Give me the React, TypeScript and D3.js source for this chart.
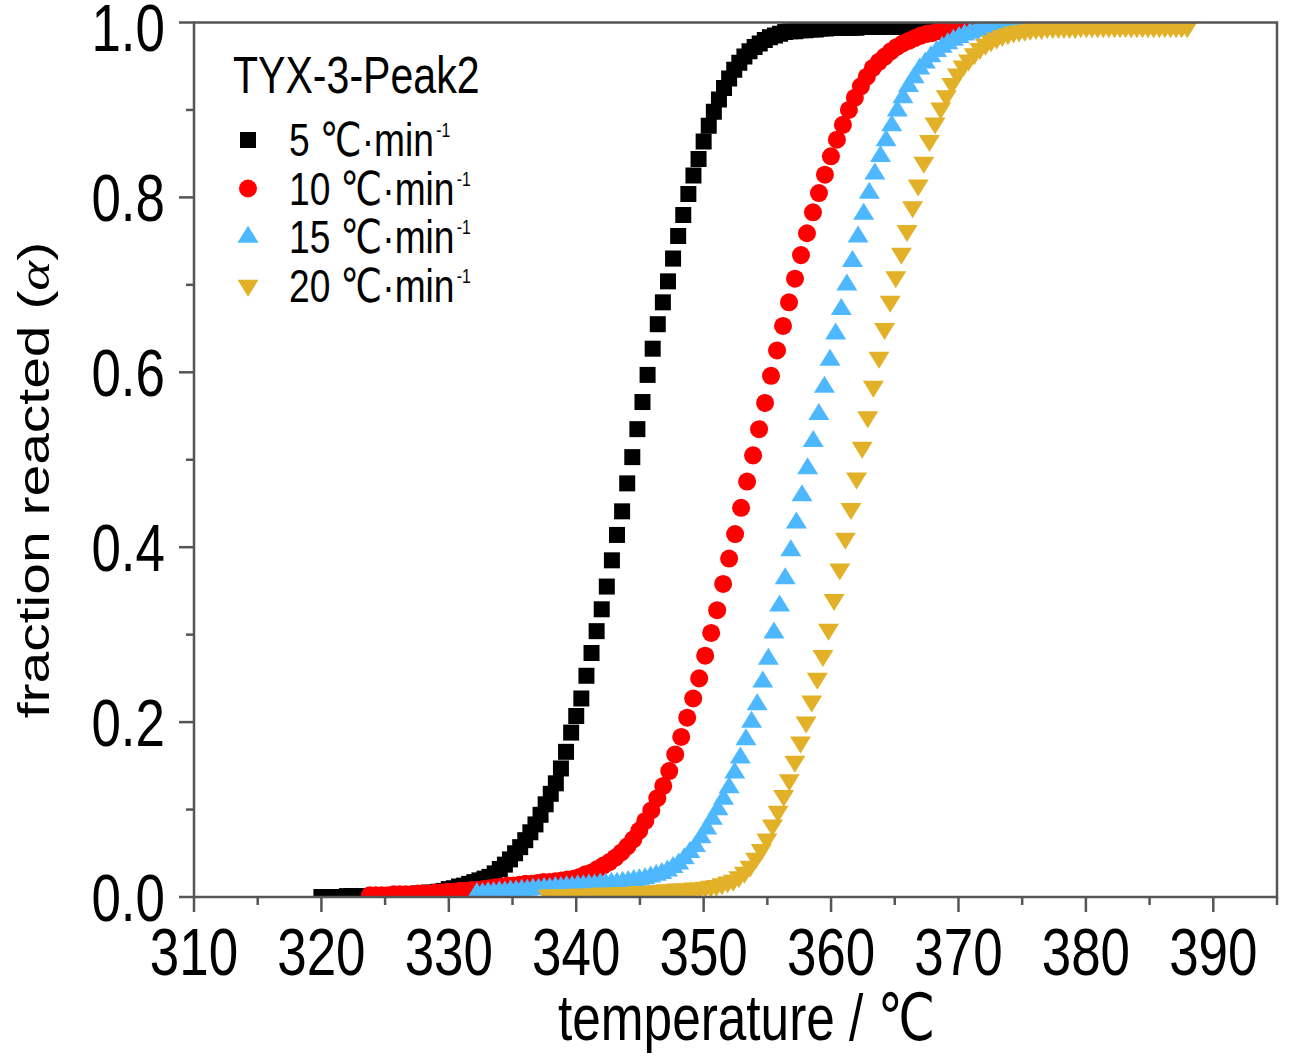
import React from 'react';
import * as d3 from 'd3';

// 画布与绘图区
const W = 1303;
const H = 1057;
const plot = { left: 194, top: 22.5, right: 1277, bottom: 897 };
const SX = 0.79; // 原图文字横向压缩比例

const FONT = '"Liberation Sans", Arial, "DejaVu Sans", sans-serif';

// 坐标轴刻度
const xDomain = [310, 395];
const xMajorTicks = [310, 320, 330, 340, 350, 360, 370, 380, 390];
const xMinorTicks = [315, 325, 335, 345, 355, 365, 375, 385, 395];
const yMajorTicks = [0, 0.2, 0.4, 0.6, 0.8, 1.0];
const yMinorTicks = [0.1, 0.3, 0.5, 0.7, 0.9];
const yTickLabels = ['0.0', '0.2', '0.4', '0.6', '0.8', '1.0'];

// 升温速率系列
const rates = ['5', '10', '15', '20'];
const colors = ['#000000', '#ff0000', '#4db8ff', '#e2b128'];
const shapes = ['square', 'circle', 'triUp', 'triDown'];
// 每个系列的起始温度与采样间隔(℃)
const tStart = [320.0, 323.8, 332.2, 337.8];
const tStep = [0.4, 0.47, 0.44, 0.44];

// 转化率 α
const alpha5 = [
  0.000, 0.000, 0.000, 0.000, 0.000, 0.001, 0.001, 0.001, 0.001, 0.001,
  0.001, 0.001, 0.002, 0.002, 0.002, 0.002, 0.003, 0.003, 0.003, 0.004,
  0.004, 0.005, 0.005, 0.006, 0.007, 0.009, 0.010, 0.012, 0.013, 0.015,
  0.017, 0.019, 0.021, 0.023, 0.027, 0.032, 0.037, 0.043, 0.050, 0.057,
  0.065, 0.074, 0.083, 0.094, 0.106, 0.118, 0.130, 0.147, 0.166, 0.188,
  0.207, 0.227, 0.253, 0.279, 0.304, 0.329, 0.355, 0.385, 0.414, 0.441,
  0.473, 0.503, 0.535, 0.566, 0.597, 0.627, 0.655, 0.680, 0.704, 0.730,
  0.756, 0.780, 0.804, 0.825, 0.844, 0.864, 0.882, 0.898, 0.912, 0.925,
  0.936, 0.946, 0.954, 0.961, 0.967, 0.972, 0.976, 0.980, 0.983, 0.985,
  0.987, 0.989, 0.990, 0.990, 0.991, 0.991, 0.992, 0.992, 0.993, 0.993,
  0.994, 0.994, 0.994, 0.994, 0.994, 0.994, 0.995, 0.995, 0.995, 0.995,
  0.995, 0.995, 0.995, 0.995, 0.995, 0.995, 0.996, 0.996, 0.996, 0.996,
  0.996, 0.996, 0.996, 0.996, 0.996, 0.996,
];

const alpha10 = [
  0.002, 0.002, 0.002, 0.002, 0.003, 0.003, 0.003, 0.003, 0.004, 0.004,
  0.004, 0.005, 0.005, 0.006, 0.006, 0.007, 0.007, 0.008, 0.008, 0.009,
  0.010, 0.011, 0.012, 0.013, 0.013, 0.014, 0.015, 0.015, 0.016, 0.017,
  0.017, 0.018, 0.019, 0.020, 0.021, 0.023, 0.026, 0.028, 0.032, 0.036,
  0.040, 0.045, 0.051, 0.058, 0.066, 0.076, 0.087, 0.099, 0.113, 0.127,
  0.144, 0.163, 0.183, 0.205, 0.227, 0.250, 0.276, 0.302, 0.328, 0.358,
  0.387, 0.415, 0.445, 0.475, 0.505, 0.535, 0.565, 0.596, 0.625, 0.653,
  0.680, 0.707, 0.734, 0.759, 0.783, 0.805, 0.826, 0.847, 0.866, 0.883,
  0.900, 0.914, 0.927, 0.938, 0.948, 0.955, 0.961, 0.967, 0.972, 0.976,
  0.979, 0.982, 0.985, 0.987, 0.988, 0.990, 0.991, 0.992, 0.993, 0.993,
  0.994, 0.994, 0.995, 0.995, 0.995, 0.996, 0.996, 0.996,
];

const alpha15 = [
  0.004, 0.004, 0.005, 0.005, 0.006, 0.006, 0.007, 0.007, 0.008, 0.008,
  0.009, 0.009, 0.010, 0.010, 0.011, 0.011, 0.012, 0.012, 0.013, 0.013,
  0.014, 0.014, 0.015, 0.015, 0.016, 0.016, 0.017, 0.018, 0.019, 0.020,
  0.021, 0.023, 0.025, 0.027, 0.030, 0.034, 0.038, 0.044, 0.051, 0.058,
  0.068, 0.078, 0.089, 0.100, 0.112, 0.125, 0.142, 0.159, 0.180, 0.200,
  0.220, 0.246, 0.272, 0.302, 0.333, 0.364, 0.396, 0.428, 0.459, 0.490,
  0.521, 0.552, 0.583, 0.614, 0.644, 0.672, 0.700, 0.727, 0.755, 0.781,
  0.805, 0.827, 0.847, 0.865, 0.882, 0.899, 0.914, 0.927, 0.937, 0.947,
  0.954, 0.961, 0.967, 0.972, 0.976, 0.980, 0.983, 0.986, 0.988, 0.990,
  0.991, 0.992, 0.993, 0.993, 0.994, 0.994, 0.995, 0.995, 0.995, 0.995,
  0.995, 0.995, 0.995, 0.995, 0.995, 0.996, 0.996, 0.996, 0.996, 0.996,
  0.996, 0.996, 0.996, 0.996,
];

const alpha20 = [
  0.002, 0.002, 0.002, 0.002, 0.002, 0.003, 0.003, 0.003, 0.003, 0.004,
  0.004, 0.004, 0.004, 0.005, 0.005, 0.005, 0.006, 0.006, 0.006, 0.007,
  0.007, 0.008, 0.008, 0.009, 0.009, 0.009, 0.010, 0.010, 0.011, 0.012,
  0.013, 0.015, 0.017, 0.019, 0.023, 0.028, 0.035, 0.044, 0.054, 0.066,
  0.082, 0.098, 0.116, 0.134, 0.155, 0.177, 0.200, 0.224, 0.250, 0.276,
  0.306, 0.340, 0.375, 0.410, 0.444, 0.479, 0.514, 0.549, 0.584, 0.617,
  0.650, 0.681, 0.709, 0.736, 0.762, 0.789, 0.814, 0.840, 0.865, 0.885,
  0.902, 0.916, 0.930, 0.941, 0.950, 0.957, 0.964, 0.970, 0.975, 0.979,
  0.982, 0.985, 0.987, 0.989, 0.990, 0.991, 0.992, 0.993, 0.993, 0.994,
  0.994, 0.994, 0.994, 0.994, 0.994, 0.995, 0.995, 0.995, 0.995, 0.995,
  0.995, 0.995, 0.995, 0.995, 0.995, 0.995, 0.995, 0.995, 0.995, 0.995,
  0.995, 0.995, 0.995, 0.995, 0.995,
];

const alphaSeries = [alpha5, alpha10, alpha15, alpha20];

// 标记形状
const markerPath = (shape: string) => {
  if (shape === 'square') return d3.symbol(d3.symbolSquare, 256)()!;
  if (shape === 'circle') return d3.symbol(d3.symbolCircle, 255)()!;
  const w = 21, h = 17;
  if (shape === 'triUp') return `M0,${-h * 2 / 3}L${w / 2},${h / 3}L${-w / 2},${h / 3}Z`;
  return `M0,${h * 2 / 3}L${w / 2},${-h / 3}L${-w / 2},${-h / 3}Z`;
};

// 横向压缩的文字
const SText = ({ x, y, size, anchor = 'start', children }: any) => (
  <g transform={`translate(${x},${y}) scale(${SX},1)`}>
    <text textAnchor={anchor} fontSize={size} fontFamily={FONT} fill="#000">
      {children}
    </text>
  </g>
);

export default function App() {
  const x = d3.scaleLinear().domain(xDomain).range([plot.left, plot.right]);
  const y = d3.scaleLinear().domain([0, 1]).range([plot.bottom, plot.top]);
  const axisColor = '#555';

  return (
    <svg
      width={W}
      height={H}
      viewBox={`0 0 ${W} ${H}`}
      style={{ position: 'absolute', left: 0, top: 0, background: '#fff' }}
    >
      <defs>
        <clipPath id="plot-clip">
          <rect x={plot.left} y={plot.top} width={plot.right - plot.left} height={plot.bottom - plot.top} />
        </clipPath>
      </defs>

      {/* 数据点 */}
      <g clipPath="url(#plot-clip)">
        {alphaSeries.map((vals, s) => {
          const d = markerPath(shapes[s]);
          return (
            <g key={rates[s]} fill={colors[s]}>
              {vals.map((a, i) => (
                <path
                  key={i}
                  d={d}
                  transform={`translate(${x(tStart[s] + i * tStep[s])},${y(a)})`}
                />
              ))}
            </g>
          );
        })}
      </g>

      {/* 边框 */}
      <rect
        x={plot.left}
        y={plot.top}
        width={plot.right - plot.left}
        height={plot.bottom - plot.top}
        fill="none"
        stroke={axisColor}
        strokeWidth={2.5}
      />

      {/* 刻度线 */}
      <g stroke={axisColor} strokeWidth={2.5}>
        {xMajorTicks.map(t => (
          <line key={t} x1={x(t)} x2={x(t)} y1={plot.bottom} y2={plot.bottom + 15} />
        ))}
        {xMinorTicks.map(t => (
          <line key={t} x1={x(t)} x2={x(t)} y1={plot.bottom} y2={plot.bottom + 8} />
        ))}
        {yMajorTicks.map(t => (
          <line key={t} x1={plot.left - 15} x2={plot.left} y1={y(t)} y2={y(t)} />
        ))}
        {yMinorTicks.map(t => (
          <line key={t} x1={plot.left - 8} x2={plot.left} y1={y(t)} y2={y(t)} />
        ))}
      </g>

      {xMajorTicks.map(t => (
        <SText key={t} x={x(t)} y={975} size={67} anchor="middle">{t}</SText>
      ))}
      {yMajorTicks.map((t, i) => (
        <SText key={t} x={165} y={Math.max(y(t) + 24, 51)} size={67} anchor="end">{yTickLabels[i]}</SText>
      ))}

      {/* 坐标轴标题 */}
      <SText x={558} y={1040} size={65}>temperature / ℃</SText>
      <g transform="translate(49,480) rotate(-90) scale(1,0.79)">
        <text textAnchor="middle" fontSize={57} fontFamily={FONT} fill="#000">
          fraction reacted (
          <tspan fontFamily='"Liberation Serif", "DejaVu Serif", serif' fontStyle="italic">α</tspan>
          )
        </text>
      </g>

      {/* 图例 */}
      <SText x={233} y={92.7} size={52}>TYX-3-Peak2</SText>
      {rates.map((r, i) => {
        const base = 156 + i * 48.5;
        return (
          <g key={r}>
            <path
              d={markerPath(shapes[i])}
              fill={colors[i]}
              transform={`translate(248,${base - 16})`}
            />
            <SText x={289} y={base} size={47}>
              {`${r} ℃·min`}
              <tspan fontSize={20} dy={-19} dx={3}>-1</tspan>
            </SText>
          </g>
        );
      })}
    </svg>
  );
}
